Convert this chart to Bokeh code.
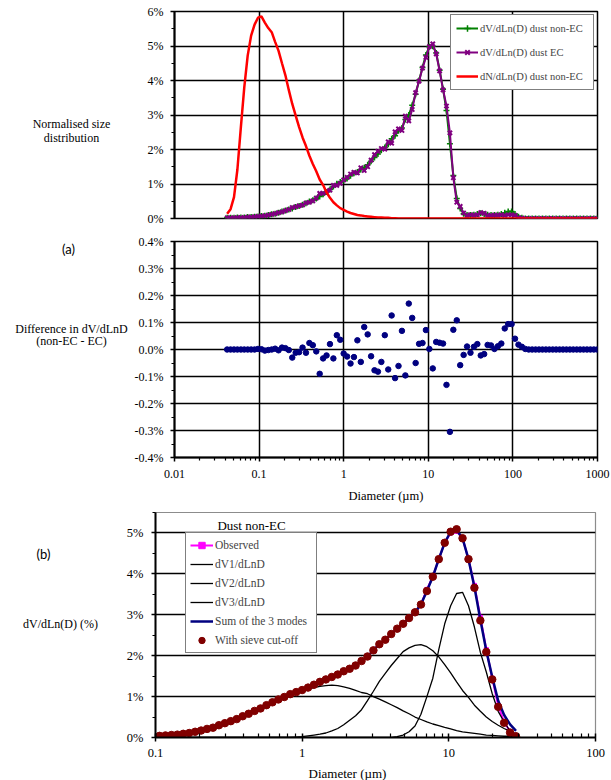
from bokeh.plotting import figure
from bokeh.models import (Range1d, FixedTicker, CustomJSTickFormatter, PrintfTickFormatter,
                          Legend, LegendItem, Label)
from bokeh.layouts import column, row
from bokeh.core.properties import value
from bokeh.embed import file_html
from bokeh.resources import INLINE

SERIF = "Liberation Serif"
SANS = "Lato"

# ---------------- data ----------------
# channel diameters (um)
diameter = [0.0419, 0.0460, 0.0505, 0.0554, 0.0609, 0.0668, 0.0733, 0.0805, 0.0884, 0.0970,
            0.1065, 0.1169, 0.1284, 0.1409, 0.1547, 0.1698, 0.1864, 0.2046, 0.2246, 0.2466,
            0.2707, 0.2972, 0.3262, 0.3581, 0.3931, 0.4316, 0.4738, 0.5201, 0.5709, 0.6268,
            0.6880, 0.7553, 0.8292, 0.9102, 0.9992, 1.0969, 1.2041, 1.3219, 1.4511, 1.5930,
            1.7487, 1.9197, 2.1074, 2.3134, 2.5396, 2.7878, 3.0604, 3.3596, 3.6880, 4.0486,
            4.4444, 4.8789, 5.3559, 5.8795, 6.4543, 7.0853, 7.7780, 8.5384, 9.3732, 10.290,
            11.296, 12.400, 13.612, 14.943, 16.404, 18.008, 19.768, 21.701, 23.822, 26.152,
            28.708, 31.515, 34.596, 37.978, 41.691, 45.767, 50.241, 55.153, 60.545, 66.464,
            72.962, 80.095, 87.926, 96.522, 105.96, 116.32, 127.69, 140.17, 153.88, 168.92,
            185.44, 203.56, 223.47, 245.31, 269.30, 295.62, 324.53, 356.25, 391.08, 429.31,
            471.29, 517.37, 567.94, 623.47, 684.42, 751.33, 824.79, 905.43, 993.95]

# (a) top: normalised size distributions (%)
dv_nonec = [0.02, 0.02, 0.02, 0.03, 0.03, 0.03, 0.04, 0.04, 0.05, 0.06,
            0.07, 0.08, 0.10, 0.12, 0.14, 0.17, 0.20, 0.23, 0.26, 0.29,
            0.33, 0.36, 0.40, 0.44, 0.49, 0.53, 0.58, 0.64, 0.70, 0.77,
            0.84, 0.93, 1.01, 1.06, 1.10, 1.16, 1.24, 1.31, 1.35, 1.42,
            1.47, 1.56, 1.66, 1.77, 1.87, 1.98, 2.06, 2.15, 2.31, 2.40,
            2.54, 2.62, 2.87, 3.00, 3.28, 3.60, 4.00, 4.38, 4.74, 4.98,
            4.99, 4.80, 4.30, 3.75, 3.13, 2.17, 1.25, 0.58, 0.29, 0.14,
            0.10, 0.10, 0.11, 0.13, 0.15, 0.13, 0.11, 0.10, 0.10, 0.11,
            0.13, 0.17, 0.20, 0.20, 0.13, 0.05, 0.02, 0.00, 0.00, 0.00,
            0.00, 0.00, 0.00, 0.00, 0.00, 0.00, 0.00, 0.00, 0.00, 0.00,
            0.00, 0.00, 0.00, 0.00, 0.00, 0.00, 0.00, 0.00, 0.00]

dv_ec = [0.02, 0.02, 0.02, 0.03, 0.03, 0.03, 0.04, 0.04, 0.05, 0.06,
         0.07, 0.08, 0.10, 0.12, 0.14, 0.17, 0.19, 0.23, 0.26, 0.32,
         0.34, 0.37, 0.39, 0.45, 0.47, 0.51, 0.59, 0.73, 0.73, 0.79,
         0.82, 0.96, 0.96, 1.02, 1.12, 1.19, 1.29, 1.34, 1.32, 1.47,
         1.39, 1.50, 1.69, 1.85, 1.95, 2.03, 2.01, 2.22, 2.18, 2.51,
         2.60, 2.55, 2.97, 2.83, 3.16, 3.65, 3.98, 4.36, 4.67, 4.98,
         5.06, 4.77, 4.28, 3.73, 3.26, 2.48, 1.18, 0.47, 0.35, 0.16,
         0.09, 0.11, 0.10, 0.11, 0.17, 0.15, 0.09, 0.09, 0.10, 0.10,
         0.11, 0.09, 0.11, 0.11, 0.09, 0.03, 0.01, 0.00, 0.00, 0.00,
         0.00, 0.00, 0.00, 0.00, 0.00, 0.00, 0.00, 0.00, 0.00, 0.00,
         0.00, 0.00, 0.00, 0.00, 0.00, 0.00, 0.00, 0.00, 0.00]

dn_nonec = [0.14, 0.27, 0.62, 1.42, 2.65, 3.80, 4.72, 5.30, 5.62, 5.82,
            5.86, 5.68, 5.52, 5.40, 5.12, 4.86, 4.50, 4.15, 3.72, 3.32,
            2.98, 2.65, 2.35, 2.10, 1.82, 1.58, 1.37, 1.13, 0.97, 0.76,
            0.60, 0.47, 0.38, 0.30, 0.25, 0.20, 0.16, 0.13, 0.10, 0.09,
            0.07, 0.06, 0.05, 0.04, 0.03, 0.03, 0.02, 0.02, 0.01, 0.01,
            0.00, 0.00, 0.00, 0.00, 0.00, 0.00, 0.00, 0.00, 0.00, 0.00,
            0.00, 0.00, 0.00, 0.00, 0.00, 0.00, 0.00, 0.00, 0.00, 0.00,
            0.00, 0.00, 0.00, 0.00, 0.00, 0.00, 0.00, 0.00, 0.00, 0.00,
            0.00, 0.00, 0.00, 0.00, 0.00, 0.00, 0.00, 0.00, 0.00, 0.00,
            0.00, 0.00, 0.00, 0.00, 0.00, 0.00, 0.00, 0.00, 0.00, 0.00,
            0.00, 0.00, 0.00, 0.00, 0.00, 0.00, 0.00, 0.00, 0.00]

# (a) middle: difference non-EC - EC (%)
diff_nonec_ec = [0.0, 0.0, 0.0, 0.0, 0.0, 0.0, 0.0, 0.0, 0.0, 0.002,
                 0.001, -0.004, -0.002, 0.0, 0.003, -0.003, 0.007, 0.005, -0.002, -0.030,
                 -0.012, -0.010, 0.007, -0.012, 0.024, 0.016, -0.007, -0.090, -0.033, -0.022,
                 0.020, -0.033, 0.053, 0.036, -0.015, -0.026, -0.052, -0.028, 0.034, -0.046,
                 0.083, 0.056, -0.025, -0.077, -0.082, -0.046, 0.053, -0.074, 0.126, -0.106,
                 -0.061, 0.069, -0.096, 0.170, 0.117, -0.050, 0.021, 0.024, 0.072, 0.002,
                 -0.070, 0.028, 0.025, 0.022, -0.131, -0.305, 0.073, 0.108, -0.058, -0.020,
                 0.011, -0.012, 0.010, 0.020, -0.022, -0.017, 0.017, 0.015, 0.002, 0.012,
                 0.022, 0.078, 0.094, 0.094, 0.040, 0.018, 0.010, 0.002, 0.0, 0.0,
                 0.0, 0.0, 0.0, 0.0, 0.0, 0.0, 0.0, 0.0, 0.0, 0.0,
                 0.0, 0.0, 0.0, 0.0, 0.0, 0.0, 0.0, 0.0, 0.0]

# (b) fitted modes, channels 9..70
fit_diameter = diameter[9:71]
observed = [0.03, 0.04, 0.05, 0.06, 0.07, 0.09, 0.11, 0.14, 0.17, 0.21, 0.24,
            0.30, 0.35, 0.40, 0.45, 0.52, 0.58, 0.65, 0.71, 0.79, 0.86,
            0.93, 0.99, 1.06, 1.11, 1.16, 1.22, 1.29, 1.36, 1.42, 1.48,
            1.54, 1.62, 1.68, 1.76, 1.87, 1.98, 2.13, 2.28, 2.39, 2.53,
            2.66, 2.78, 2.92, 3.06, 3.25, 3.62, 3.93, 4.36, 4.76, 5.00,
            5.04, 4.87, 4.36, 3.72, 2.94, 2.15, 1.45, 0.78, 0.38, 0.15, 0.05]
dv1 = [0.03, 0.04, 0.05, 0.06, 0.07, 0.09, 0.11, 0.14, 0.17, 0.21, 0.24,
       0.30, 0.35, 0.40, 0.45, 0.52, 0.58, 0.65, 0.71, 0.79, 0.86,
       0.93, 0.99, 1.05, 1.10, 1.14, 1.18, 1.22, 1.25, 1.27, 1.28,
       1.27, 1.24, 1.20, 1.15, 1.10, 1.07, 1.00, 0.94, 0.87, 0.80,
       0.73, 0.65, 0.58, 0.50, 0.44, 0.38, 0.33, 0.29, 0.25, 0.21,
       0.17, 0.14, 0.12, 0.10, 0.08, 0.06, 0.05, 0.04, 0.03, 0.03, 0.02]
dv2 = [0.00, 0.00, 0.00, 0.00, 0.00, 0.00, 0.00, 0.00, 0.00, 0.00, 0.00,
       0.00, 0.00, 0.00, 0.00, 0.00, 0.00, 0.00, 0.00, 0.00, 0.00,
       0.00, 0.00, 0.00, 0.01, 0.02, 0.04, 0.06, 0.08, 0.11, 0.16,
       0.22, 0.31, 0.42, 0.53, 0.68, 0.90, 1.13, 1.37, 1.57, 1.76,
       1.93, 2.10, 2.19, 2.25, 2.27, 2.22, 2.12, 1.97, 1.78, 1.58,
       1.36, 1.15, 0.98, 0.79, 0.64, 0.50, 0.39, 0.30, 0.22, 0.15, 0.09]
dv3 = [0.00, 0.00, 0.00, 0.00, 0.00, 0.00, 0.00, 0.00, 0.00, 0.00, 0.00,
       0.00, 0.00, 0.00, 0.00, 0.00, 0.00, 0.00, 0.00, 0.00, 0.00,
       0.00, 0.00, 0.00, 0.00, 0.00, 0.00, 0.00, 0.00, 0.00, 0.00,
       0.00, 0.00, 0.00, 0.00, 0.00, 0.00, 0.00, 0.00, 0.00, 0.00,
       0.02, 0.06, 0.14, 0.28, 0.57, 1.00, 1.45, 2.15, 2.78, 3.22,
       3.52, 3.55, 3.22, 2.70, 2.08, 1.60, 1.07, 0.64, 0.38, 0.16, 0.06]
sum_modes = [0.03, 0.04, 0.05, 0.06, 0.07, 0.09, 0.11, 0.14, 0.17, 0.21, 0.24,
             0.30, 0.35, 0.40, 0.45, 0.52, 0.58, 0.65, 0.71, 0.79, 0.86,
             0.93, 0.99, 1.06, 1.11, 1.16, 1.22, 1.29, 1.36, 1.42, 1.48,
             1.54, 1.62, 1.68, 1.76, 1.87, 1.98, 2.13, 2.28, 2.39, 2.53,
             2.66, 2.78, 2.92, 3.06, 3.25, 3.58, 3.93, 4.36, 4.76, 5.03,
             5.07, 4.87, 4.36, 3.68, 2.88, 2.12, 1.48, 0.90, 0.55, 0.32, 0.16]
sieve = [0.03, 0.04, 0.05, 0.06, 0.07, 0.09, 0.11, 0.14, 0.17, 0.21, 0.24,
         0.30, 0.35, 0.40, 0.45, 0.52, 0.58, 0.65, 0.71, 0.79, 0.86,
         0.93, 0.99, 1.06, 1.11, 1.16, 1.22, 1.29, 1.36, 1.42, 1.48,
         1.54, 1.62, 1.68, 1.76, 1.87, 1.98, 2.13, 2.28, 2.39, 2.53,
         2.66, 2.78, 2.92, 3.06, 3.25, 3.58, 3.93, 4.36, 4.76, 5.03,
         5.09, 4.87, 4.36, 3.66, 2.86, 2.09, 1.42, 0.75, 0.36, 0.12, 0.03]

x_ticks_a = [0.01, 0.1, 1, 10, 100, 1000]
x_ticks_b = [0.1, 1, 10, 100]
y_ticks_top = [0, 1, 2, 3, 4, 5, 6]
y_ticks_diff = [-0.4, -0.3, -0.2, -0.1, 0.0, 0.1, 0.2, 0.3, 0.4]
y_ticks_b = [0, 1, 2, 3, 4, 5]

minor_a = [m * 10.0 ** e for e in range(-2, 3) for m in range(2, 10)]
minor_b = [m * 10.0 ** e for e in range(-1, 2) for m in range(2, 10)]
minor_top = [v + 0.5 for v in y_ticks_top[:-1]]
minor_diff = [v + 0.05 for v in y_ticks_diff[:-1]]
minor_b_y = [v + 0.5 for v in y_ticks_b]

tick_fmt = CustomJSTickFormatter(code="return tick.toString();")


def base(p):
    p.background_fill_color = "white"
    p.border_fill_color = "white"
    for ax in p.axis:
        ax.major_label_text_font = SERIF
        ax.major_label_text_font_size = "12px"
        ax.major_label_text_color = "black"
        ax.axis_line_color = "black"
        ax.axis_line_width = 2
        ax.major_tick_line_color = "black"
        ax.minor_tick_line_color = "black"
        ax.major_tick_line_width = 1.5
        ax.minor_tick_line_width = 1.2
        ax.axis_label_text_font = SERIF
        ax.axis_label_text_font_style = "normal"
        ax.axis_label_text_font_size = "12.5px"
        ax.axis_label_text_color = "black"


def text_fig(w, h, items):
    f = figure(width=w, height=h, x_range=Range1d(0, w), y_range=Range1d(h, 0),
               output_backend="svg", toolbar_location=None,
               x_axis_location=None, y_axis_location=None, min_border=0)
    f.grid.visible = False
    f.outline_line_color = None
    f.background_fill_color = "white"
    f.border_fill_color = "white"
    for (x, y, t, font, size) in items:
        f.text(x=[x], y=[y], text=[t], text_font=value(font), text_font_size=size,
               text_align="center", text_baseline="middle", text_color="black")
    return f


# ---------------- top panel ----------------
p1 = figure(width=481, height=230, x_axis_type="log",
            x_range=Range1d(0.01, 1000), y_range=Range1d(0, 6),
            output_backend="svg", toolbar_location=None,
            min_border_left=44, min_border_right=14, min_border_top=11, min_border_bottom=12)
base(p1)
p1.xaxis.visible = False
p1.xgrid.ticker = FixedTicker(ticks=x_ticks_a)
p1.yaxis.ticker = FixedTicker(ticks=y_ticks_top, minor_ticks=minor_top)
p1.yaxis.formatter = PrintfTickFormatter(format="%d%%")
p1.yaxis.major_tick_out = 4
p1.yaxis.major_tick_in = 0
p1.yaxis.minor_tick_out = 3
p1.yaxis.minor_tick_in = 0
p1.yaxis.major_label_standoff = 7
for g in (p1.xgrid, p1.ygrid):
    g.grid_line_color = "black"
    g.grid_line_width = 1.5
p1.outline_line_color = "black"
p1.outline_line_width = 1.5

g_line = p1.line(diameter, dv_nonec, line_color="#008000", line_width=2)
g_pts = p1.scatter(diameter, dv_nonec, marker="cross", size=6, line_color="#008000", line_width=1.5)
e_line = p1.line(diameter, dv_ec, line_color="#800080", line_width=2)
e_pts = p1.scatter(diameter, dv_ec, marker="x", size=6, line_color="#800080", line_width=2)
r_line = p1.line(diameter, dn_nonec, line_color="#FF0000", line_width=2.5)

leg1 = Legend(items=[LegendItem(label="dV/dLn(D) dust non-EC", renderers=[g_line, g_pts]),
                     LegendItem(label="dV/dLn(D) dust EC", renderers=[e_line, e_pts]),
                     LegendItem(label="dN/dLn(D) dust non-EC", renderers=[r_line])],
              location="top_right", margin=3, padding=5, spacing=8, label_height=16,
              glyph_height=16, glyph_width=22, label_standoff=2, label_width=108,
              label_text_font=SERIF, label_text_font_size="10.5px",
              border_line_color="black", border_line_width=1.2,
              background_fill_color="white", background_fill_alpha=1)
p1.add_layout(leg1)
t1 = text_fig(130, 230, [(71, 125, "Normalised size", SERIF, "12px"),
                         (71, 140, "distribution", SERIF, "12px")])

# ---------------- middle panel ----------------
p2 = figure(width=481, height=275, x_axis_type="log",
            x_range=Range1d(0.01, 1000), y_range=Range1d(-0.4, 0.4),
            output_backend="svg", toolbar_location=None,
            min_border_left=44, min_border_right=14, min_border_top=11, min_border_bottom=48)
base(p2)
p2.xaxis.ticker = FixedTicker(ticks=x_ticks_a, minor_ticks=minor_a)
p2.xaxis.formatter = tick_fmt
p2.xaxis.major_tick_out = 4
p2.xaxis.major_tick_in = 0
p2.xaxis.minor_tick_out = 3
p2.xaxis.minor_tick_in = 0
p2.xaxis.major_label_standoff = 8
p2.xaxis.axis_label = "Diameter (µm)"
p2.xaxis.axis_label_standoff = 8
p2.yaxis.ticker = FixedTicker(ticks=y_ticks_diff, minor_ticks=minor_diff)
p2.yaxis.formatter = PrintfTickFormatter(format="%.1f%%")
p2.yaxis.major_tick_out = 4
p2.yaxis.major_tick_in = 0
p2.yaxis.minor_tick_out = 3
p2.yaxis.minor_tick_in = 0
p2.yaxis.major_label_standoff = 7
for g in (p2.xgrid, p2.ygrid):
    g.grid_line_color = "black"
    g.grid_line_width = 1.5
p2.outline_line_color = "black"
p2.outline_line_width = 1.5
p2.scatter(diameter, diff_nonec_ec, marker="circle", size=5.5,
           fill_color="#000080", line_color="#000080")
t2 = text_fig(130, 275, [(68, 9, "(a)", SANS, "13px"),
                         (71, 112, "Difference in dV/dLnD", SERIF, "12px"),
                         (71, 127, "(non-EC - EC)", SERIF, "12px")])

# ---------------- bottom panel ----------------
p3 = figure(width=501, height=259, x_axis_type="log",
            x_range=Range1d(0.1, 100), y_range=Range1d(0, 5.5),
            output_backend="svg", toolbar_location=None,
            min_border_left=45, min_border_right=16, min_border_top=7, min_border_bottom=27)
base(p3)
p3.xaxis.ticker = FixedTicker(ticks=x_ticks_b, minor_ticks=minor_b)
p3.xaxis.formatter = tick_fmt
p3.xaxis.major_tick_out = 4
p3.xaxis.major_tick_in = 4
p3.xaxis.minor_tick_out = 0
p3.xaxis.minor_tick_in = 4
p3.xaxis.major_label_standoff = 7
p3.xaxis.major_label_text_font_size = "12.5px"
p3.yaxis.ticker = FixedTicker(ticks=y_ticks_b, minor_ticks=minor_b_y)
p3.yaxis.formatter = PrintfTickFormatter(format="%d%%")
p3.yaxis.major_tick_out = 4
p3.yaxis.major_tick_in = 0
p3.yaxis.minor_tick_out = 3
p3.yaxis.minor_tick_in = 0
p3.yaxis.major_label_standoff = 8
p3.yaxis.major_label_text_font_size = "12.5px"
p3.xgrid.visible = False
p3.ygrid.grid_line_color = "black"
p3.ygrid.grid_line_width = 1.5
p3.outline_line_color = "#8c8c8c"
p3.outline_line_width = 1.2

o_line = p3.line(fit_diameter, observed, line_color="#FF00FF", line_width=2)
o_pts = p3.scatter(fit_diameter, observed, marker="square", size=4,
                   fill_color="#FF00FF", line_color="#FF00FF")
m1 = p3.line(fit_diameter, dv1, line_color="black", line_width=1.3)
m2 = p3.line(fit_diameter, dv2, line_color="black", line_width=1.3)
m3 = p3.line(fit_diameter, dv3, line_color="black", line_width=1.3)
s_line = p3.line(fit_diameter, sum_modes, line_color="#000080", line_width=2.5)
c_pts = p3.scatter(fit_diameter, sieve, marker="circle", size=7.5,
                   fill_color="#800000", line_color="#800000")

leg3 = Legend(items=[LegendItem(label="Observed", renderers=[o_line, o_pts]),
                     LegendItem(label="dV1/dLnD", renderers=[m1]),
                     LegendItem(label="dV2/dLnD", renderers=[m2]),
                     LegendItem(label="dV3/dLnD", renderers=[m3]),
                     LegendItem(label="Sum of the 3 modes", renderers=[s_line]),
                     LegendItem(label="With sieve cut-off", renderers=[c_pts])],
              location=(30, 84), padding=4, spacing=3, label_height=16,
              glyph_height=16, glyph_width=23, label_standoff=2, label_width=97,
              label_text_font=SERIF, label_text_font_size="11.5px",
              border_line_color="black", border_line_width=1.5,
              background_fill_color="white", background_fill_alpha=1)
p3.add_layout(leg3)
p3.add_layout(Label(x=141, y=20, x_units="canvas", y_units="canvas", text="Dust non-EC",
                    text_font=SERIF, text_font_size="13px", text_align="center",
                    text_baseline="middle", text_color="black"))
t3 = text_fig(110, 259, [(43, 48, "(b)", SANS, "13px"),
                         (60, 128, "dV/dLn(D) (%)", SERIF, "12px")])
t4 = text_fig(611, 16, [(347, 9, "Diameter (µm)", SERIF, "13px")])

layout = column(row(t1, p1), row(t2, p2), row(t3, p3), t4)
open("out.html", "w").write(file_html(layout, INLINE))
